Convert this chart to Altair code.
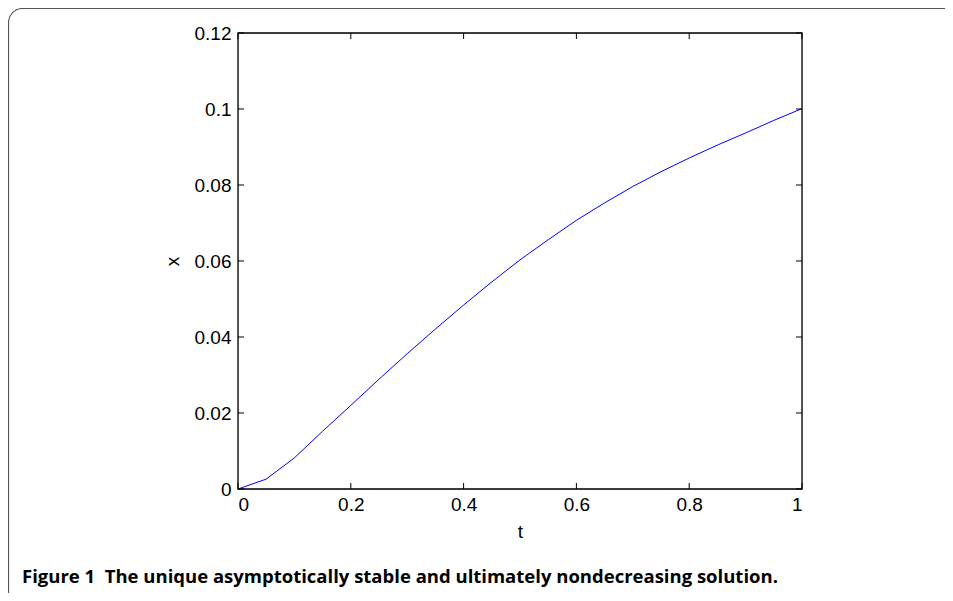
import altair as alt
import pandas as pd

t_values = [0.0, 0.05, 0.1, 0.15, 0.2, 0.25, 0.3, 0.35, 0.4, 0.45, 0.5,
            0.55, 0.6, 0.65, 0.7, 0.75, 0.8, 0.85, 0.9, 0.95, 1.0]
x_values = [0.0, 0.0026, 0.0082, 0.0152, 0.0220, 0.0289, 0.0356, 0.0421, 0.0484,
            0.0545, 0.0603, 0.0656, 0.0707, 0.0753, 0.0796, 0.0835, 0.0871,
            0.0905, 0.0937, 0.0970, 0.1001]
t_ticks = [0, 0.2, 0.4, 0.6, 0.8, 1]
x_ticks = [0, 0.02, 0.04, 0.06, 0.08, 0.1, 0.12]
caption = "Figure 1\u00a0\u00a0The unique asymptotically stable and ultimately nondecreasing solution."

W, H = 564, 456
FONT = "Liberation Sans"

df = pd.DataFrame({"t": t_values, "x": x_values})
tdf = pd.DataFrame({"t": t_ticks})
xdf = pd.DataFrame({"x": x_ticks})

xscale = alt.Scale(domain=[0, 1], nice=False, zero=False)
yscale = alt.Scale(domain=[0, 0.12], nice=False, zero=False)

line = alt.Chart(df).mark_line(color="#0000ff", strokeWidth=1, clip=False).encode(
    x=alt.X("t:Q", scale=xscale, axis=alt.Axis(
        values=t_ticks, ticks=False, domain=False, grid=False,
        labelExpr="datum.value == 0 ? '0' : datum.value == 1 ? '1' : format(datum.value, '.1f')",
        labelFont=FONT, labelFontSize=19, labelColor="black", labelPadding=6,
        title="t", titleFont=FONT, titleFontSize=19, titleFontWeight="normal",
        titleColor="black", titlePadding=8)),
    y=alt.Y("x:Q", scale=yscale, axis=alt.Axis(
        values=x_ticks, ticks=False, domain=False, grid=False,
        labelExpr="datum.value == 0 ? '0' : datum.value == 0.1 ? '0.1' : format(datum.value, '.2f')",
        labelFont=FONT, labelFontSize=19, labelColor="black", labelPadding=7,
        title="x", titleFont=FONT, titleFontSize=19, titleFontWeight="normal",
        titleColor="black", titlePadding=12)),
)

box = alt.Chart(pd.DataFrame({"a": [0]})).mark_rect(
    fill=None, stroke="black", strokeWidth=1.3).encode(
    x=alt.value(0), x2=alt.value(W), y=alt.value(0), y2=alt.value(H))

tk = 6
bottom_ticks = alt.Chart(tdf).mark_rule(color="black", strokeWidth=1).encode(
    x=alt.X("t:Q", scale=xscale), y=alt.value(H), y2=alt.value(H - tk))
top_ticks = alt.Chart(tdf).mark_rule(color="black", strokeWidth=1).encode(
    x=alt.X("t:Q", scale=xscale), y=alt.value(0), y2=alt.value(tk))
left_ticks = alt.Chart(xdf).mark_rule(color="black", strokeWidth=1).encode(
    y=alt.Y("x:Q", scale=yscale), x=alt.value(0), x2=alt.value(tk))
right_ticks = alt.Chart(xdf).mark_rule(color="black", strokeWidth=1).encode(
    y=alt.Y("x:Q", scale=yscale), x=alt.value(W), x2=alt.value(W - tk))

frame = alt.Chart(pd.DataFrame({"a": [0]})).mark_rect(
    fill=None, stroke="#555555", strokeWidth=1.2, cornerRadius=14).encode(
    x=alt.value(-229.5), x2=alt.value(770), y=alt.value(-24.5), y2=alt.value(575))

cap = alt.Chart(pd.DataFrame({"c": [caption]})).mark_text(
    align="left", baseline="alphabetic", font="Open Sans", fontWeight="bold",
    fontSize=18.5, color="black").encode(
    text="c:N", x=alt.value(22 - 238), y=alt.value(583 - 33))

chart = alt.layer(frame, line, box, bottom_ticks, top_ticks, left_ticks, right_ticks, cap).properties(
    width=W, height=H,
    autosize=alt.AutoSizeParams(type="none"),
    padding={"left": 230, "top": 25, "right": 143, "bottom": 104},
).configure_view(stroke=None).configure(background="white")

chart.save("out.html", embed_options={"renderer": "svg", "actions": False})
